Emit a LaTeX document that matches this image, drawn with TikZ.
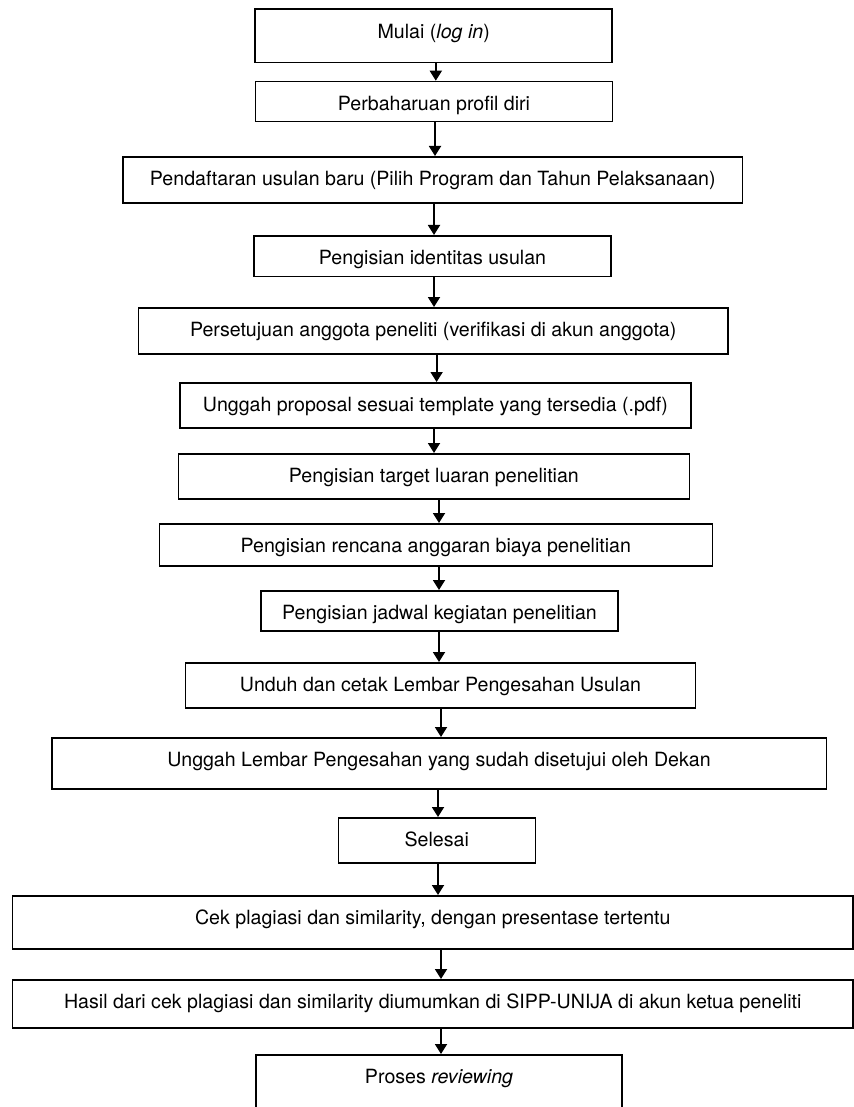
\documentclass[tikz,border=0pt]{standalone}
\usepackage{fontspec}
\setmainfont{TeX Gyre Heros}
\usetikzlibrary{arrows.meta}
\tikzset{
    kotak/.style={draw, line width=0.8pt, anchor=north, inner xsep=0pt, inner ysep=0pt, text height=14.5pt, font=\fontsize{9.8}{11}\selectfont},
    panah/.style={-{Triangle[width=6pt,length=5pt]}, line width=0.9pt}
}
\begin{document}
\begin{tikzpicture}[x=0.5pt,y=-0.5pt]
            \useasboundingbox (0,0) rectangle (854,1107);
            \node [kotak, minimum width=178.5pt, text depth=12.2pt] (mulai) at(433.7,8.3) {Mulai (\textit{log in})};
            \node [kotak, minimum width=178.5pt, text depth=5.5pt] (profil) at(434,80.7) {Perbaharuan profil diri};
            \node [kotak, minimum width=309.8pt, text depth=8.5pt] (daftar) at(432.8,156) {Pendaftaran usulan baru (Pilih Program dan Tahun Pelaksanaan)};
            \node [kotak, minimum width=178.5pt, text depth=5.85pt] (identitas) at(432.5,235) {Pengisian identitas usulan};
            \node [kotak, minimum width=294.8pt, text depth=8.5pt] (setuju) at(433.2,307) {Persetujuan anggota peneliti (verifikasi di akun anggota)};
            \node [kotak, minimum width=255.4pt, text depth=8pt] (proposal) at(435.4,382) {Unggah proposal sesuai template yang tersedia (.pdf)};
            \node [kotak, minimum width=255.5pt, text depth=8pt] (target) at(433.9,453) {Pengisian target luaran penelitian};
            \node [kotak, minimum width=276.5pt, text depth=6.5pt] (anggaran) at(435.8,523) {Pengisian rencana anggaran biaya penelitian};
            \node [kotak, minimum width=178.6pt, text depth=5.5pt] (jadwal) at(439.5,590) {Pengisian jadwal kegiatan penelitian};
            \node [kotak, minimum width=255pt, text depth=8pt] (unduh) at(440.5,662) {Unduh dan cetak Lembar Pengesahan Usulan};
            \node [kotak, minimum width=387.3pt, text depth=11pt] (pengesahan) at(439,737) {Unggah Lembar Pengesahan yang sudah disetujui oleh Dekan};
            \node [kotak, minimum width=98.5pt, text depth=8pt] (selesai) at(436.8,817) {Selesai};
            \node [kotak, minimum width=420.3pt, text depth=12pt] (cek) at(432.8,895) {Cek plagiasi dan similarity, dengan presentase tertentu};
            \node [kotak, minimum width=420.3pt, text depth=9.5pt] (hasil) at(432.8,979) {Hasil dari cek plagiasi dan similarity diumumkan di SIPP-UNIJA di akun ketua peneliti};
            \node [kotak, minimum width=183pt, text depth=15.5pt] (review) at(439,1054) {Proses \textit{reviewing}};
            \foreach \a/\b/\x in {mulai/profil/435.8, profil/daftar/435, daftar/identitas/434, identitas/setuju/434,
                setuju/proposal/436.6, proposal/target/434, target/anggaran/439, anggaran/jadwal/439, jadwal/unduh/439,
                unduh/pengesahan/441, pengesahan/selesai/438, selesai/cek/438, cek/hasil/441, hasil/review/441}
                \draw [panah] (\a.south -| \x,0) -- (\b.north -| \x,0);
        \end{tikzpicture}
\end{document}
